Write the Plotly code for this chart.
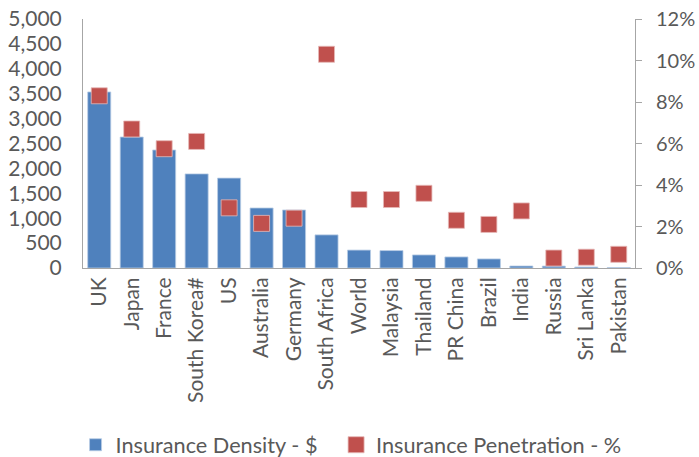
import plotly.graph_objects as go

countries = ["UK", "Japan", "France", "South Korea#", "US", "Australia", "Germany",
             "South Africa", "World", "Malaysia", "Thailand", "PR China", "Brazil",
             "India", "Russia", "Sri Lanka", "Pakistan"]
density_usd = [3535, 2630, 2370, 1890, 1805, 1205, 1165, 665, 360, 350, 262, 222, 182,
               40, 38, 20, 8]
penetration_pct = [8.3, 6.7, 5.75, 6.1, 2.9, 2.15, 2.4, 10.3, 3.3, 3.3, 3.6, 2.3, 2.1,
                   2.75, 0.48, 0.52, 0.66]

FONT = "Lato"
FSIZE = 21
GREY_TXT = "#595959"
AXIS_LINE = "#a6a6a6"

fig = go.Figure()
fig.add_trace(go.Bar(
    x=countries, y=density_usd, name="Insurance Density - $",
    marker=dict(color="#4f81bd", line=dict(color="#b9cde5", width=0.8)),
    yaxis="y", legend="legend",
))
fig.add_trace(go.Scatter(
    x=countries, y=penetration_pct, name="Insurance Penetration - %",
    mode="markers",
    marker=dict(symbol="square", size=16, color="#c0504d",
                line=dict(color="#e6b9b8", width=0.8)),
    yaxis="y2", legend="legend2",
))

# one legend per series so the two entries can be spaced independently
legend_common = dict(orientation="h", xanchor="left", yref="container", y=0.026,
                     yanchor="middle", font=dict(size=21.7, color=GREY_TXT),
                     itemwidth=30, bgcolor="rgba(0,0,0,0)")

fig.update_layout(
    width=699, height=457,
    margin=dict(l=83, r=64, t=19, b=189, autoexpand=False),
    paper_bgcolor="white", plot_bgcolor="white",
    font=dict(family=FONT, size=FSIZE, color=GREY_TXT),
    bargap=0.29,
    showlegend=True,
    legend=dict(x=-0.0135, **legend_common),
    legend2=dict(x=0.4585, **legend_common),
    xaxis=dict(
        type="category", range=[-0.5, len(countries) - 0.5], tickangle=-90,
        showline=True, linecolor=AXIS_LINE, linewidth=1, ticks="",
        showgrid=False, automargin=False, ticklabelstandoff=0,
    ),
    yaxis=dict(
        range=[0, 5000], dtick=500, tickformat=",d", showline=True,
        linecolor=AXIS_LINE, linewidth=1, ticks="", showgrid=False,
        zeroline=False, automargin=False, ticklabelstandoff=16,
    ),
    yaxis2=dict(
        range=[0, 12], dtick=2, ticksuffix="%", overlaying="y", side="right",
        showline=True, linecolor=AXIS_LINE, linewidth=1, ticks="outside",
        ticklen=6, tickcolor=AXIS_LINE, showgrid=False, zeroline=False,
        automargin=False, ticklabelstandoff=10, tickfont=dict(size=20),
    ),
)

fig.write_html("out.html")
